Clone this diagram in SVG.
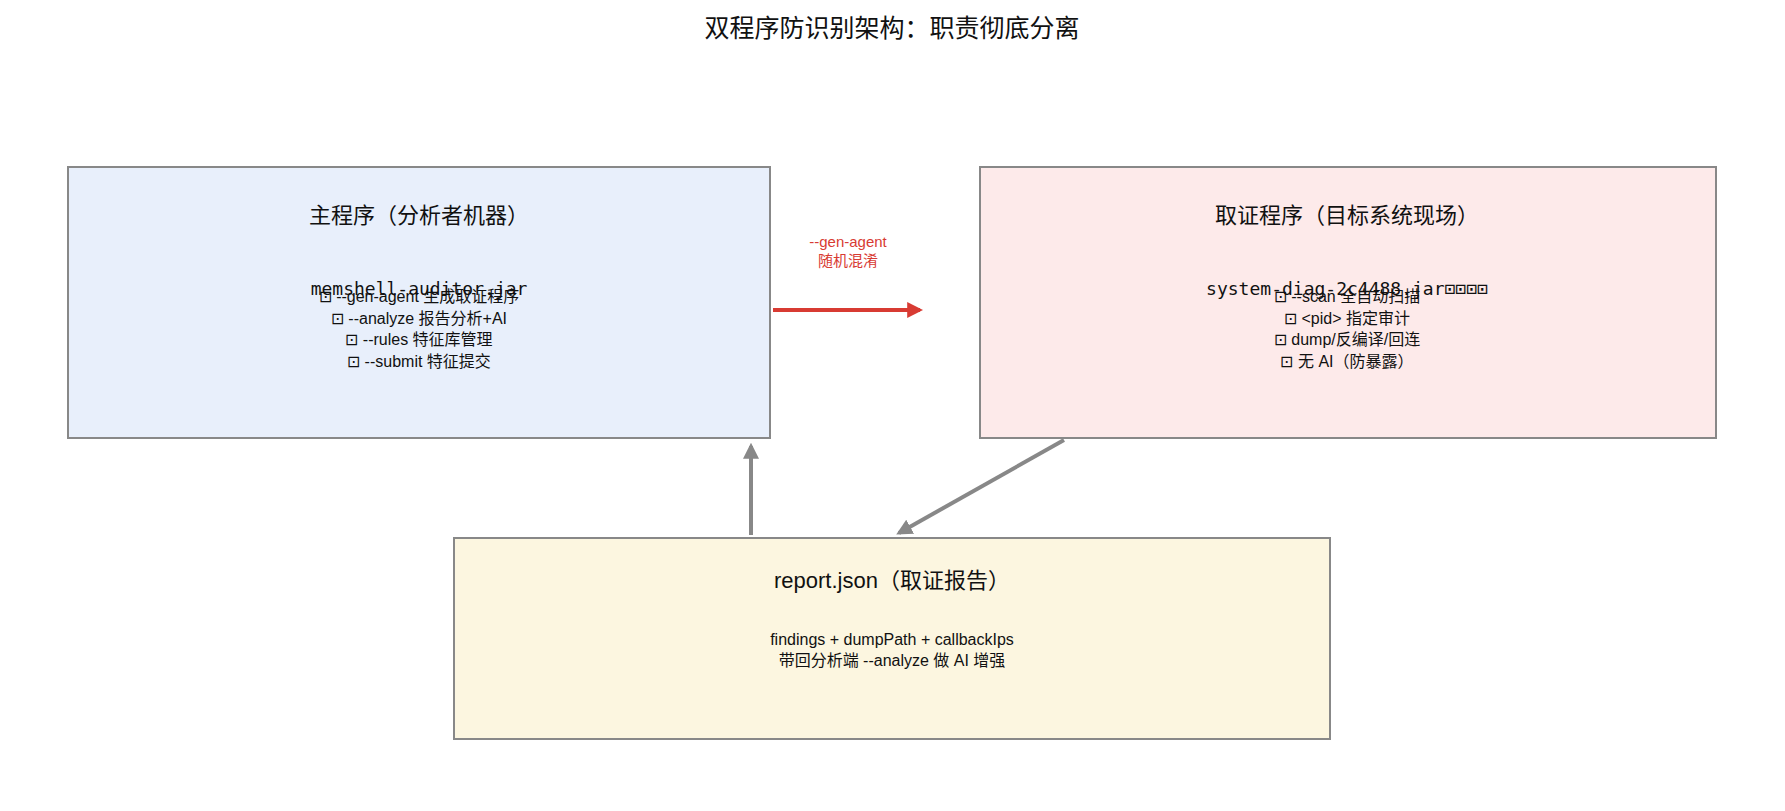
<svg xmlns="http://www.w3.org/2000/svg" width="1785" height="811" viewBox="0 0 1785 811">
<style>
text{font-family:"Liberation Sans","Noto Sans CJK SC",sans-serif;text-anchor:middle;fill:#111}
.t{font-size:25px}
.h{font-size:22px}
.b{font-size:16px}
.m{font-family:"DejaVu Sans Mono","Liberation Mono","Noto Sans CJK SC",monospace;font-size:18px}
.box{stroke:#888;stroke-width:2}
</style>
<defs>
<marker id="ar" viewBox="0 0 10 10" refX="8" refY="5" markerWidth="4" markerHeight="4" orient="auto"><path d="M0,0 L10,5 L0,10 z" fill="#d83b33"/></marker>
<marker id="ag" viewBox="0 0 10 10" refX="8" refY="5" markerWidth="4" markerHeight="4" orient="auto"><path d="M0,0 L10,5 L0,10 z" fill="#888"/></marker>
</defs>
<rect width="1785" height="811" fill="#fff"/>
<text class="t" x="892" y="37">双程序防识别架构：职责彻底分离</text>
<g id="main">
<rect class="box" x="68" y="167" width="702" height="271" fill="#e8effb"/>
<text class="h" x="419" y="223">主程序（分析者机器）</text>
<text class="m" x="419" y="295">memshell-auditor.jar</text>
<text class="b" x="419" y="302">⊡ --gen-agent 生成取证程序</text>
<text class="b" x="419" y="324">⊡ --analyze 报告分析+AI</text>
<text class="b" x="419" y="345">⊡ --rules 特征库管理</text>
<text class="b" x="419" y="367">⊡ --submit 特征提交</text>
</g>
<g id="forensic">
<rect class="box" x="980" y="167" width="736" height="271" fill="#fdeaea"/>
<text class="h" x="1347" y="223">取证程序（目标系统现场）</text>
<text class="m" x="1347" y="295">system-diag-2c4488.jar⊡⊡⊡⊡</text>
<text class="b" x="1347" y="302">⊡ --scan 全自动扫描</text>
<text class="b" x="1347" y="324">⊡ &lt;pid&gt; 指定审计</text>
<text class="b" x="1347" y="345">⊡ dump/反编译/回连</text>
<text class="b" x="1347" y="367">⊡ 无 AI（防暴露）</text>
</g>
<g id="report">
<rect class="box" x="454" y="538" width="876" height="201" fill="#fcf6e0"/>
<text class="h" x="892" y="588">report.json（取证报告）</text>
<text class="b" x="892" y="645">findings + dumpPath + callbackIps</text>
<text class="b" x="892" y="666">带回分析端 --analyze 做 AI 增强</text>
</g>
<g id="connectors">
<line x1="773" y1="310" x2="920" y2="310" stroke="#d83b33" stroke-width="4" marker-end="url(#ar)"/>
<text class="b" x="848" y="247" style="fill:#d83b33;font-size:15px">--gen-agent</text>
<text class="b" x="848" y="266" style="fill:#d83b33;font-size:15px">随机混淆</text>
<line x1="751" y1="535" x2="751" y2="446" stroke="#888" stroke-width="4" marker-end="url(#ag)"/>
<line x1="1064" y1="440" x2="899" y2="533" stroke="#888" stroke-width="4" marker-end="url(#ag)"/>
</g>
</svg>
